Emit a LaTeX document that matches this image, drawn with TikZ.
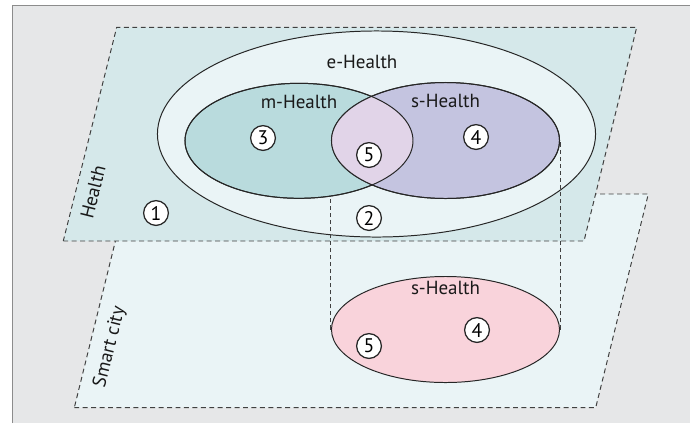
\documentclass[tikz,border=0pt]{standalone}
\usepackage{fontspec}
\setmainfont{PT Sans}
\usetikzlibrary{positioning, shapes.geometric}

\definecolor{bggray}{HTML}{E6E7E8}
\definecolor{healthplane}{HTML}{D5E8EA}
\definecolor{cityplane}{HTML}{EAF4F6}
\definecolor{mfill}{HTML}{B9DBDD}
\definecolor{sfill}{HTML}{C4C4E0}
\definecolor{lensfill}{HTML}{E1D4E8}
\definecolor{pinkfill}{HTML}{F9D3DB}

\begin{document}
\begin{tikzpicture}[x=0.025cm, y=-0.025cm,
    plane/.style={draw=black!75, dash pattern=on 3.5pt off 2.5pt, line width=0.7pt},
    venn/.style={ellipse, draw=black!85, line width=0.7pt, inner sep=0pt},
    num/.style={circle, draw=black!85, fill=white, line width=0.9pt, minimum size=0.62cm, inner sep=0pt, font=\fontsize{14}{14}\selectfont},
    lbl/.style={font=\fontsize{13.5}{13.5}\selectfont, inner sep=1pt, text=black!90},
    guide/.style={draw=black!75, dash pattern=on 3pt off 2pt, line width=0.7pt}
]

\useasboundingbox (0,0) rectangle (690,423);

% Frame
\fill[bggray] (12,5.5) rectangle (690,423);
\draw[black!45, line width=0.6pt] (12,423) -- (12,5.5) -- (690,5.5);

% Planes
\filldraw[plane, fill=cityplane] (74.3,407.7) -- (595.7,407.7) -- (648.3,194) -- (127,194) -- cycle;
\filldraw[plane, fill=healthplane] (63.3,241) -- (584,241) -- (636.7,27.3) -- (116.7,27.3) -- cycle;

% s-Health in the smart city
\node[venn, fill=pinkfill, minimum width=5.7cm, minimum height=2.65cm] (shlow) at (445.5,329.5) {};

% e-Health
\node[venn, fill=cityplane, minimum width=10.95cm, minimum height=5.15cm] (ehealth) at (376.5,134) {};

% Projection lines
\coordinate (shtop) at (445.5,140.5);
\draw[guide] (shlow.west) -- (shlow.west |- shtop);
\draw[guide] (shlow.east) -- (shlow.east |- shtop);

% m-Health and s-Health
\node[venn, fill=mfill, minimum width=5.7cm, minimum height=2.875cm] (mhealth) at (299,140.8) {};
\node[venn, fill=sfill, minimum width=5.7cm, minimum height=2.9cm] (shealth) at (shtop) {};

% Overlap
\begin{scope}
  \clip (mhealth.center) ellipse [x radius=114, y radius=57.5];
  \fill[lensfill] (shealth.center) ellipse [x radius=114, y radius=58];
\end{scope}
\draw[black!85, line width=0.7pt] (mhealth.center) ellipse [x radius=114, y radius=57.5];
\draw[black!85, line width=0.7pt] (shealth.center) ellipse [x radius=114, y radius=58];

% Labels
\node[lbl] (elbl) at (362,62) {e-Health};
\node[lbl, below=0.26cm of mhealth.north] (mlbl) {m-Health};
\node[lbl, below=0.26cm of shealth.north] (slbl) {s-Health};
\node[lbl, below=0.09cm of shlow.north] (slowlbl) {s-Health};
\node[lbl, rotate=76] (healthlbl) at (93,192) {Health};
\node[lbl, rotate=76] (citylbl) at (110,347) {Smart city};

% Numbered regions
\node[num] (n1) at (156,213) {1};
\node[num] (n2) at (369,218) {2};
\node[num] (n3) at (263,138) {3};
\node[num] (n4) at (476,137) {4};
\node[num] (n5) at (369,155) {5};
\node[num] (n4b) at (477,330) {4};
\node[num] (n5b) at (369,346) {5};

\end{tikzpicture}
\end{document}
